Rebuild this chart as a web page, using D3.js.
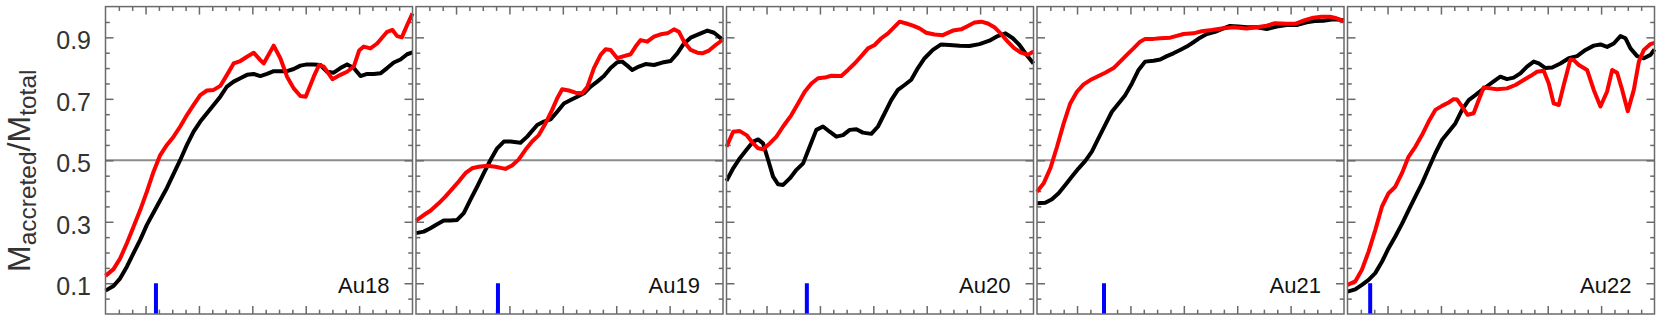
<!DOCTYPE html>
<html><head><meta charset="utf-8">
<script src="https://cdn.jsdelivr.net/npm/d3@7"></script>
<style>body{margin:0;background:#fff} svg{display:block}</style>
</head><body>
<svg id="chart" width="1661" height="318"></svg>
<script>
// ---------- DATA ----------
const panelNames = ["Au18", "Au19", "Au20", "Au21", "Au22"];
const markerX = [3.78, 6.14, 6.02, 5.02, 1.7];
const yTickLabels = [0.1, 0.3, 0.5, 0.7, 0.9];
const refLevel = 0.5;
const markerTop = 0.1;

const au18Black = [[0,0.076],[0.6,0.091],[1.1,0.116],[1.6,0.154],[2.1,0.198],[2.6,0.241],[3.1,0.29],[3.6,0.33],[4.1,0.37],[4.6,0.41],[5.1,0.456],[5.6,0.501],[6.1,0.55],[6.6,0.593],[7.1,0.626],[7.6,0.653],[8.1,0.68],[8.6,0.707],[9.1,0.74],[9.6,0.756],[10.1,0.767],[10.6,0.778],[11.1,0.781],[11.6,0.774],[12.1,0.781],[12.6,0.79],[13.1,0.79],[13.6,0.79],[14.1,0.797],[14.6,0.808],[15.1,0.812],[15.6,0.812],[16.1,0.81],[16.6,0.788],[17.1,0.785],[17.6,0.8],[18.1,0.812],[18.6,0.8],[19.1,0.774],[19.6,0.781],[20.1,0.781],[20.6,0.783],[21.1,0.8],[21.6,0.818],[22.1,0.828],[22.6,0.845],[23,0.851]];
const au18Red = [[0,0.124],[0.6,0.146],[1.1,0.181],[1.6,0.23],[2.1,0.284],[2.6,0.338],[3.1,0.398],[3.6,0.463],[4.1,0.517],[4.6,0.55],[5.1,0.577],[5.6,0.61],[6.1,0.647],[6.6,0.68],[7.1,0.712],[7.6,0.727],[8.1,0.729],[8.6,0.742],[9.1,0.778],[9.6,0.815],[10.1,0.823],[10.6,0.837],[11.1,0.85],[11.6,0.826],[11.85,0.815],[12.6,0.873],[13.1,0.832],[13.6,0.772],[14.1,0.734],[14.6,0.709],[15.0,0.707],[15.6,0.772],[16.0,0.81],[16.35,0.805],[17.0,0.764],[17.6,0.778],[18.1,0.788],[18.6,0.805],[19.0,0.857],[19.35,0.87],[19.85,0.864],[20.35,0.88],[21.1,0.918],[21.5,0.924],[21.85,0.904],[22.2,0.9],[22.6,0.94],[23,0.978]];

const au19Black = [[0,0.263],[0.58,0.268],[1.08,0.279],[1.58,0.292],[2.08,0.304],[2.58,0.304],[3.08,0.306],[3.58,0.328],[4.08,0.372],[4.58,0.414],[5.08,0.458],[5.58,0.501],[6.08,0.539],[6.58,0.561],[7.08,0.561],[7.83,0.557],[8.33,0.577],[9.08,0.615],[9.58,0.626],[10.08,0.633],[10.58,0.658],[11.08,0.685],[11.58,0.696],[12.08,0.707],[12.58,0.718],[13.08,0.74],[13.58,0.756],[14.08,0.774],[14.58,0.8],[15.08,0.819],[15.45,0.821],[15.83,0.808],[16.2,0.794],[16.7,0.805],[17.2,0.813],[17.83,0.81],[18.45,0.818],[19.08,0.823],[19.58,0.848],[20.08,0.88],[20.58,0.899],[21.33,0.913],[21.83,0.922],[22.33,0.915],[22.7,0.902],[23,0.891]];
const au19Red = [[0,0.304],[0.58,0.322],[1.08,0.336],[1.7,0.36],[2.2,0.382],[2.7,0.406],[3.2,0.431],[3.7,0.458],[4.2,0.474],[4.7,0.479],[5.33,0.482],[5.95,0.479],[6.7,0.472],[7.2,0.483],[7.7,0.503],[8.2,0.534],[8.7,0.561],[9.2,0.582],[9.7,0.62],[10.2,0.664],[10.58,0.702],[10.95,0.731],[11.45,0.727],[11.95,0.72],[12.45,0.718],[12.83,0.738],[13.33,0.8],[13.83,0.843],[14.2,0.861],[14.58,0.859],[15.08,0.832],[15.45,0.837],[16.08,0.845],[16.45,0.87],[16.83,0.891],[17.33,0.886],[17.83,0.902],[18.33,0.91],[18.83,0.913],[19.33,0.926],[19.7,0.918],[20.08,0.886],[20.58,0.859],[21.08,0.85],[21.45,0.848],[21.95,0.857],[22.45,0.875],[23,0.893]];

const au20Black = [[0,0.433],[0.5,0.474],[1.0,0.507],[1.5,0.534],[2.0,0.561],[2.37,0.568],[2.74,0.555],[3.12,0.501],[3.49,0.447],[3.87,0.422],[4.24,0.42],[4.74,0.441],[5.24,0.469],[5.74,0.49],[6.23,0.544],[6.73,0.599],[7.23,0.61],[7.73,0.593],[8.23,0.577],[8.73,0.582],[9.23,0.599],[9.73,0.601],[10.22,0.59],[10.85,0.586],[11.35,0.61],[11.85,0.653],[12.34,0.696],[12.84,0.729],[13.34,0.745],[13.84,0.762],[14.34,0.8],[14.84,0.832],[15.46,0.859],[16.08,0.877],[16.71,0.875],[17.46,0.873],[18.2,0.872],[18.95,0.878],[19.7,0.889],[20.32,0.904],[20.9,0.913],[21.45,0.897],[21.95,0.875],[22.44,0.845],[23,0.815]];
const au20Red = [[0,0.544],[0.5,0.593],[1.0,0.595],[1.5,0.582],[2.0,0.555],[2.37,0.539],[2.74,0.536],[3.24,0.555],[3.74,0.577],[4.24,0.61],[4.86,0.647],[5.36,0.685],[5.86,0.723],[6.36,0.75],[6.86,0.767],[7.36,0.769],[7.86,0.775],[8.6,0.774],[9.1,0.794],[9.6,0.815],[10.1,0.839],[10.6,0.864],[11.1,0.875],[11.6,0.897],[12.1,0.913],[12.6,0.935],[12.97,0.951],[13.47,0.945],[13.97,0.938],[14.46,0.929],[14.96,0.915],[15.59,0.909],[16.21,0.907],[16.96,0.922],[17.58,0.926],[18.08,0.937],[18.58,0.948],[19.08,0.951],[19.58,0.945],[20.07,0.933],[20.57,0.911],[21.07,0.886],[21.57,0.864],[22.07,0.85],[22.57,0.843],[23,0.854]];

const au21Black = [[0,0.36],[0.62,0.362],[1.12,0.373],[1.62,0.393],[2.12,0.42],[2.62,0.447],[3.12,0.474],[3.62,0.498],[4.11,0.528],[4.61,0.572],[5.11,0.615],[5.61,0.658],[6.11,0.685],[6.61,0.712],[7.11,0.75],[7.61,0.794],[8.1,0.821],[8.73,0.824],[9.23,0.828],[9.73,0.839],[10.22,0.848],[10.72,0.859],[11.22,0.87],[11.72,0.884],[12.22,0.899],[12.72,0.911],[13.34,0.918],[13.97,0.929],[14.46,0.937],[15.09,0.935],[15.71,0.933],[16.46,0.933],[17.21,0.927],[17.96,0.935],[18.7,0.94],[19.45,0.94],[20.2,0.949],[20.82,0.953],[21.45,0.954],[22.19,0.959],[23,0.956]];
const au21Red = [[0,0.398],[0.5,0.425],[1.0,0.474],[1.5,0.544],[2.0,0.62],[2.49,0.685],[2.99,0.723],[3.49,0.747],[3.99,0.761],[4.49,0.772],[5.11,0.785],[5.74,0.8],[6.23,0.821],[6.73,0.843],[7.23,0.864],[7.73,0.886],[8.1,0.895],[8.73,0.895],[9.23,0.897],[9.98,0.899],[10.47,0.905],[10.97,0.911],[11.72,0.913],[12.34,0.92],[13.09,0.924],[13.84,0.929],[14.71,0.933],[15.71,0.929],[16.46,0.933],[17.21,0.938],[17.83,0.946],[18.7,0.944],[19.33,0.944],[20.07,0.956],[20.7,0.964],[21.32,0.967],[21.95,0.967],[22.44,0.962],[23,0.953]];

const au22Black = [[0,0.073],[0.58,0.08],[1.08,0.095],[1.58,0.111],[2.08,0.133],[2.58,0.17],[3.08,0.214],[3.58,0.252],[4.08,0.293],[4.58,0.338],[5.08,0.382],[5.58,0.425],[6.08,0.474],[6.58,0.523],[7.08,0.566],[7.58,0.593],[8.08,0.62],[8.58,0.664],[9.08,0.696],[9.58,0.712],[10.08,0.729],[10.58,0.745],[11.08,0.761],[11.45,0.772],[11.95,0.764],[12.45,0.769],[12.95,0.783],[13.45,0.805],[13.95,0.821],[14.33,0.815],[14.83,0.8],[15.33,0.802],[15.95,0.815],[16.58,0.832],[17.2,0.839],[17.83,0.859],[18.45,0.873],[18.95,0.877],[19.45,0.869],[19.95,0.88],[20.45,0.904],[20.83,0.897],[21.2,0.864],[21.7,0.839],[22.2,0.832],[22.7,0.843],[23,0.861]];
const au22Red = [[0,0.095],[0.58,0.106],[1.08,0.144],[1.58,0.203],[2.08,0.273],[2.58,0.349],[3.08,0.393],[3.58,0.414],[4.08,0.458],[4.58,0.512],[5.08,0.544],[5.58,0.582],[6.08,0.626],[6.58,0.664],[7.08,0.677],[7.58,0.688],[7.95,0.699],[8.2,0.698],[8.58,0.675],[9.0,0.648],[9.45,0.653],[9.83,0.696],[10.2,0.737],[10.7,0.734],[11.2,0.731],[11.95,0.734],[12.58,0.745],[13.2,0.761],[13.7,0.774],[14.2,0.788],[14.7,0.791],[15.08,0.75],[15.45,0.685],[15.83,0.68],[16.2,0.745],[16.7,0.828],[16.95,0.826],[17.33,0.81],[17.95,0.794],[18.45,0.729],[18.95,0.675],[19.45,0.724],[19.83,0.794],[20.2,0.785],[20.58,0.729],[21.0,0.66],[21.45,0.729],[21.83,0.821],[22.2,0.859],[22.7,0.878],[23,0.882]];

const blackSeries = [au18Black, au19Black, au20Black, au21Black, au22Black];
const redSeries = [au18Red, au19Red, au20Red, au21Red, au22Red];

// ---------- LAYOUT ----------
const FONT = "'Liberation Sans', Arial, Helvetica, sans-serif";
const left0 = 105.5, step = 310.5, pw = 307;
const plotTop = 6.6, plotBottom = 314;
const svg = d3.select("#chart");
const y = d3.scaleLinear().domain([0, 1]).range([plotBottom, plotTop]);
const x = d3.scaleLinear().domain([0, 23]).range([0, pw]);

const xMinor = d3.range(1, 23).filter(v => (v - 3) % 4 !== 0);
const xMajor = d3.range(3, 23, 4);
const yMinor = d3.range(1, 20).map(v => +(v * 0.05).toFixed(2)).filter(v => !yTickLabels.includes(v));
const tickColor = "#6a6a6a";

function styleAxis(g) {
  g.select(".domain").remove();
  g.selectAll(".tick line").attr("stroke", tickColor).attr("stroke-width", 1.5);
}

panelNames.forEach((name, i) => {
  const g = svg.append("g").attr("transform", `translate(${left0 + i * step},0)`);

  g.append("line").attr("x1", 0).attr("x2", pw)
    .attr("y1", y(refLevel)).attr("y2", y(refLevel))
    .attr("stroke", "#8c8c8c").attr("stroke-width", 2);

  [[xMinor, 4.3], [xMajor, 8]].forEach(([vals, len]) => {
    g.append("g").attr("transform", `translate(0,${plotBottom})`)
      .call(d3.axisBottom(x).tickValues(vals).tickSize(-len).tickFormat("")).call(styleAxis);
    g.append("g").attr("transform", `translate(0,${plotTop})`)
      .call(d3.axisTop(x).tickValues(vals).tickSize(-len).tickFormat("")).call(styleAxis);
  });
  [[yMinor, 4.3], [yTickLabels, 8]].forEach(([vals, len]) => {
    g.append("g").call(d3.axisLeft(y).tickValues(vals).tickSize(-len).tickFormat("")).call(styleAxis);
    g.append("g").attr("transform", `translate(${pw},0)`)
      .call(d3.axisRight(y).tickValues(vals).tickSize(-len).tickFormat("")).call(styleAxis);
  });

  g.append("line").attr("x1", x(markerX[i])).attr("x2", x(markerX[i]))
    .attr("y1", y(0)).attr("y2", y(markerTop))
    .attr("stroke", "#0000ff").attr("stroke-width", 4);

  const line = d3.line().x(d => x(d[0])).y(d => y(d[1])).curve(d3.curveLinear);
  g.append("path").datum(blackSeries[i]).attr("d", line)
    .attr("fill", "none").attr("stroke", "#000").attr("stroke-width", 4).attr("stroke-linejoin", "round");
  g.append("path").datum(redSeries[i]).attr("d", line)
    .attr("fill", "none").attr("stroke", "#ff0000").attr("stroke-width", 4).attr("stroke-linejoin", "round");

  g.append("rect").attr("x", 0).attr("y", plotTop).attr("width", pw).attr("height", plotBottom - plotTop)
    .attr("fill", "none").attr("stroke", tickColor).attr("stroke-width", 1.5);

  g.append("text").attr("x", pw - 23).attr("y", 293).attr("text-anchor", "end")
    .attr("font-family", FONT).attr("font-size", 22).attr("fill", "#111").text(name);

  if (i === 0) {
    const ax = g.append("g").call(d3.axisLeft(y).tickValues(yTickLabels).tickSize(0).tickPadding(14.5)
      .tickFormat(d3.format(".1f")));
    ax.select(".domain").remove();
    ax.selectAll("text").attr("font-family", FONT).attr("font-size", 25).attr("fill", "#333").attr("dy", "0.45em");
  }
});

const title = svg.append("text")
  .attr("transform", "translate(29.5,272) rotate(-90)")
  .attr("font-family", FONT).attr("fill", "#333").attr("text-anchor", "start");
title.append("tspan").attr("font-size", 32).text("M");
title.append("tspan").attr("font-size", 24.5).attr("dy", 6).text("accreted");
title.append("tspan").attr("font-size", 32).attr("dy", -6).text("/M");
title.append("tspan").attr("font-size", 24.5).attr("dy", 6).text("total");
</script>
</body></html>
